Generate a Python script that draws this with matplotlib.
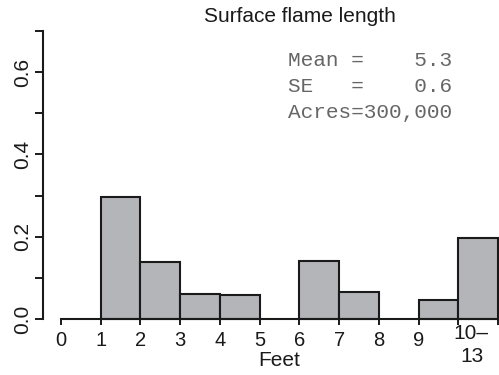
import matplotlib
matplotlib.use("Agg")
from matplotlib import pyplot as plt

# histogram bins (feet) and proportion of acres
bin_left = [1, 2, 3, 4, 6, 7, 9, 10]
proportion = [0.297, 0.139, 0.061, 0.058, 0.141, 0.066, 0.045, 0.197]
xtick_vals = list(range(12))
xtick_labels = ["0", "1", "2", "3", "4", "5", "6", "7", "8", "9", "", ""]
ytick_vals = [0.0, 0.2, 0.4, 0.6]
stats_lines = ["Mean =    5.3", "SE   =    0.6", "Acres=300,000"]

plt.rcParams["font.family"] = ["Liberation Sans", "DejaVu Sans"]

W, H = 499, 375
fig = plt.figure(figsize=(W / 100, H / 100), dpi=100)
# axes box in pixels: left 43, right 498, bottom y=319, top y=31
ax = fig.add_axes([43 / W, (H - 319) / H, (498 - 43) / W, (319 - 31) / H])

ax.bar(bin_left, proportion, width=1.0, align="edge", color="#b4b5b9",
       edgecolor="#1a1a1a", linewidth=1.5, clip_on=False, zorder=2)

ax.set_xlim(-0.453, 11.0)
ax.set_ylim(0, 0.7)

for s in ["top", "right"]:
    ax.spines[s].set_visible(False)
ax.spines["bottom"].set_bounds(0, 11)
ax.spines["left"].set_bounds(0, 0.7)
for s in ["bottom", "left"]:
    ax.spines[s].set_linewidth(1.5)
    ax.spines[s].set_color("#1a1a1a")
    ax.spines[s].set_zorder(3)

yt = [i / 10 for i in range(8)]
ax.set_xticks(xtick_vals)
ax.set_xticklabels(xtick_labels, fontsize=14.5)
ax.set_yticks(yt)
ax.set_yticklabels(["%.1f" % v if any(abs(v - t) < 1e-9 for t in ytick_vals) else ""
                    for v in yt], rotation=90, va="center", fontsize=15)
ax.tick_params(axis="both", colors="#1a1a1a", width=1.4)
ax.tick_params(axis="x", length=4.3, pad=4)
ax.tick_params(axis="y", length=5.8, pad=2)

ax.text(10.31, -0.036, "10\u2013", ha="center", va="center", fontsize=15, color="#1a1a1a")
ax.text(10.34, -0.09, "13", ha="center", va="center", fontsize=15, color="#1a1a1a")
ax.text(5.49, -0.1, "Feet", ha="center", va="center", fontsize=15, color="#1a1a1a")

fig.text(300 / W, 1 - 17 / H, "Surface flame length", ha="center", va="center",
         fontsize=15, color="#1a1a1a")

for i, line in enumerate(stats_lines):
    fig.text(288 / W, 1 - (61 + i * 25.5) / H, line, ha="left", va="center",
             fontsize=15.2, family="Liberation Mono", color="#666666")

fig.savefig("out.png", dpi=100)
